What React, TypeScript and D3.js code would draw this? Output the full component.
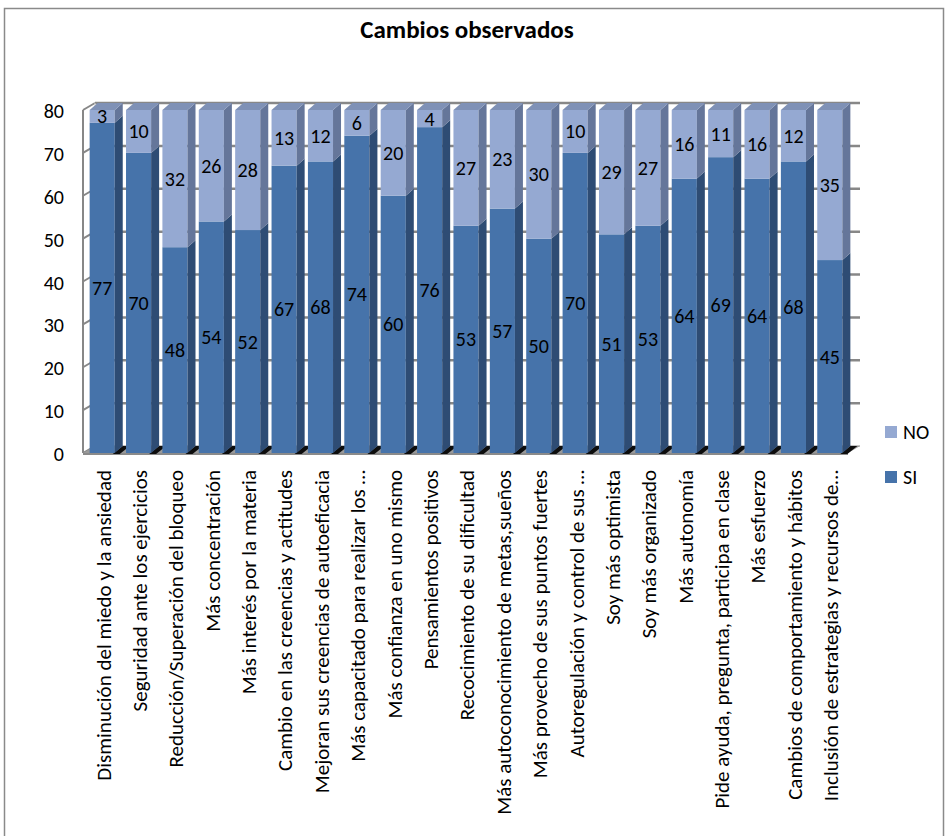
import React from "react";
import * as d3 from "d3";

const W = 947;
const H = 836;
const FONT = "Carlito, Calibri, Lato, sans-serif";

const categories = [
  "Disminución del miedo y la ansiedad",
  "Seguridad ante los ejercicios",
  "Reducción/Superación del bloqueo",
  "Más concentración",
  "Más interés por la materia",
  "Cambio en las creencias y actitudes",
  "Mejoran sus creencias de autoeficacia",
  "Más capacitado para realizar los …",
  "Más confianza en uno mismo",
  "Pensamientos positivos",
  "Recocimiento de su dificultad",
  "Más autoconocimiento de metas,sueños",
  "Más provecho de sus puntos fuertes",
  "Autoregulación y control de sus …",
  "Soy más optimista",
  "Soy más organizado",
  "Más autonomía",
  "Pide ayuda, pregunta, participa en clase",
  "Más esfuerzo",
  "Cambios de comportamiento y hábitos",
  "Inclusión de estrategias y recursos de…",
];
const siValues = [77, 70, 48, 54, 52, 67, 68, 74, 60, 76, 53, 57, 50, 70, 51, 53, 64, 69, 64, 68, 45];
const noValues = [3, 10, 32, 26, 28, 13, 12, 6, 20, 4, 27, 23, 30, 10, 29, 27, 16, 11, 16, 12, 35];
const yTicks = [0, 10, 20, 30, 40, 50, 60, 70, 80];

const COLORS = {
  siFront: "#4673AA",
  siSide: "#2E4C74",
  noFront: "#95A9D2",
  noSide: "#65769A",
  noTop: "#7F91B6",
  grid: "#878787",
};

// depth offsets for the fake 3D
const WALL = { dx: 12, dy: -7 };
const BAR = { dx: 8, dy: -7 };

const pts = (p: number[][]) => p.map((d) => d.join(",")).join(" ");

export default function App() {
  const x = d3
    .scaleBand<string>()
    .domain(categories)
    .range([84, 848])
    .paddingInner(0.31)
    .paddingOuter(0.155);
  const y = d3.scaleLinear().domain([0, 80]).range([453, 110]);
  const bw = x.bandwidth();
  const x0 = 83;
  const xRight = 848;

  return (
    <svg
      width={W}
      height={H}
      style={{ position: "absolute", left: 0, top: 0, background: "#fff" }}
      fontFamily={FONT}
    >
      <rect x={4.5} y={8.5} width={939} height={840} fill="#fff" stroke="#8a8a8a" strokeWidth={1.5} />

      <text x={467} y={38} textAnchor="middle" fontSize={25} fontWeight="bold" fill="#000">
        Cambios observados
      </text>

      {/* back wall gridlines */}
      {yTicks.map((t) => (
        <g key={"g" + t}>
          <line
            x1={x0 + WALL.dx}
            x2={xRight + WALL.dx}
            y1={y(t) + WALL.dy}
            y2={y(t) + WALL.dy}
            stroke={COLORS.grid}
            strokeWidth={t === 0 ? 1 : 2.5}
          />
          <line
            x1={x0}
            x2={x0 + WALL.dx}
            y1={y(t)}
            y2={y(t) + WALL.dy}
            stroke={COLORS.grid}
            strokeWidth={2}
          />
          <text
            x={64}
            y={y(t) + 1}
            dy="0.35em"
            textAnchor="end"
            fontSize={20}
            fill="#000"
          >
            {t}
          </text>
        </g>
      ))}

      {/* left wall */}
      <line x1={x0} x2={x0} y1={y(80)} y2={y(0)} stroke={COLORS.grid} strokeWidth={2} />
      <line x1={x0 + WALL.dx} x2={x0 + WALL.dx} y1={y(80) + WALL.dy} y2={y(0) + WALL.dy} stroke="#d0d0d0" strokeWidth={1} />

      {/* floor */}
      <polygon
        points={pts([
          [x0, y(0)],
          [x0 + WALL.dx, y(0) + WALL.dy],
          [xRight + WALL.dx, y(0) + WALL.dy],
          [xRight, y(0)],
        ])}
        fill="#9a9a9a"
      />
      <line x1={x0} x2={xRight} y1={y(0) + 1} y2={y(0) + 1} stroke="#8a8a8a" strokeWidth={2} />

      {/* bars */}
      {categories.map((c, i) => {
        const xl = x(c) as number;
        const xr = xl + bw;
        const si = siValues[i];
        const no = noValues[i];
        const yb = y(0);
        const ys = y(si);
        const yt = y(si + no);
        return (
          <g key={c}>
            <polygon
              points={pts([
                [xr - 2, yb + 1],
                [xr + BAR.dx, yb + BAR.dy],
                [xr + BAR.dx + 7, yb + BAR.dy],
                [xr + 5, yb + 1],
              ])}
              fill="#0d0d0d"
            />
            <rect x={xl} y={ys} width={bw} height={yb - ys} fill={COLORS.siFront} />
            <polygon
              points={pts([
                [xr, ys],
                [xr + BAR.dx, ys + BAR.dy],
                [xr + BAR.dx, yb + BAR.dy],
                [xr, yb],
              ])}
              fill={COLORS.siSide}
            />
            <rect x={xl} y={yt} width={bw} height={ys - yt} fill={COLORS.noFront} />
            <polygon
              points={pts([
                [xr, yt],
                [xr + BAR.dx, yt + BAR.dy],
                [xr + BAR.dx, ys + BAR.dy],
                [xr, ys],
              ])}
              fill={COLORS.noSide}
            />
            <polygon
              points={pts([
                [xl, yt],
                [xl + BAR.dx, yt + BAR.dy],
                [xr + BAR.dx, yt + BAR.dy],
                [xr, yt],
              ])}
              fill={COLORS.noTop}
            />
            <text
              x={xl + bw / 2}
              y={(yb + ys) / 2}
              dy="0.35em"
              textAnchor="middle"
              fontSize={20}
              fill="#000"
            >
              {si}
            </text>
            <text
              x={xl + bw / 2}
              y={(ys + yt) / 2}
              dy="0.35em"
              textAnchor="middle"
              fontSize={20}
              fill="#000"
            >
              {no}
            </text>
            <text
              transform={`translate(${xl + bw / 2 + 1},470) rotate(-90)`}
              dy="0.35em"
              textAnchor="end"
              fontSize={21}
              fill="#000"
            >
              {c}
            </text>
          </g>
        );
      })}

      {/* legend */}
      <rect x={885} y={426} width={12} height={12} fill={COLORS.noFront} />
      <text x={903} y={432} dy="0.35em" fontSize={20} fill="#000">
        NO
      </text>
      <rect x={885} y={471} width={12} height={12} fill={COLORS.siFront} />
      <text x={903} y={477} dy="0.35em" fontSize={20} fill="#000">
        SI
      </text>
    </svg>
  );
}
